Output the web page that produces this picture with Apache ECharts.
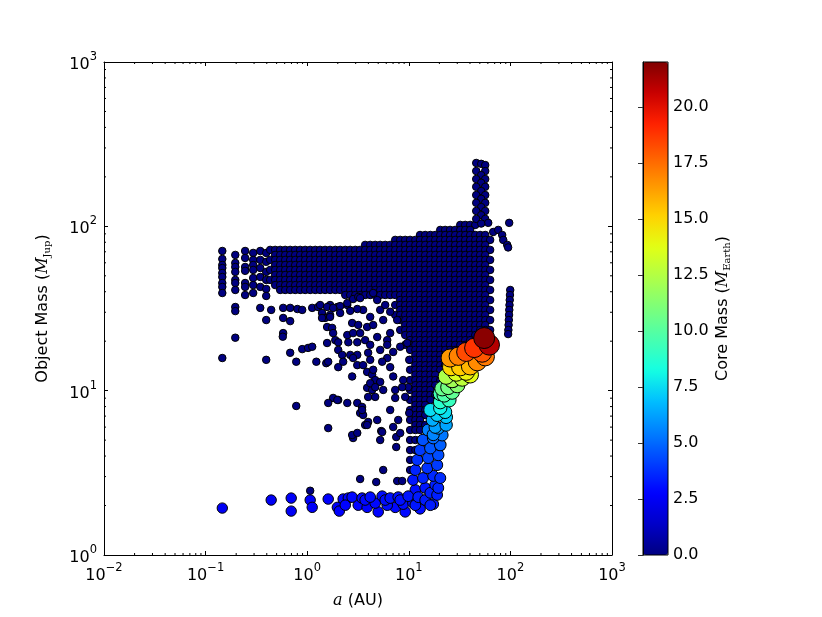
<!DOCTYPE html>
<html>
<head>
<meta charset="utf-8">
<script src="https://cdn.jsdelivr.net/npm/echarts@6.0.0/dist/echarts.min.js"></script>
<style>
  html, body { margin: 0; padding: 0; background: #fff; }
  #chart { width: 822px; height: 617px; }
</style>
</head>
<body>
<div id="chart"></div>
<script>
// ---- data: [a (AU), object mass (M_Jup)] or [a, mass, core mass] ----

// far-left columns of the cloud (initial a grid), core mass 0
const leftColumns = [
  [0.146, 70.8], [0.146, 63.3], [0.146, 58.2], [0.146, 55.8], [0.146, 52.0], [0.146, 49.2], [0.146, 45.2], [0.146, 42.8], [0.146, 39.3],
  [0.196, 67.0], [0.196, 59.9], [0.196, 56.6], [0.196, 52.8], [0.196, 47.2], [0.196, 45.2], [0.196, 41.0],
  [0.245, 70.8], [0.245, 64.2], [0.245, 56.6], [0.245, 53.6], [0.245, 45.2], [0.245, 42.8], [0.245, 38.2],
  [0.294, 68.9], [0.294, 62.5], [0.294, 58.2], [0.294, 54.3], [0.294, 48.5], [0.294, 43.9], [0.294, 39.3],
  [0.345, 70.8], [0.345, 62.5], [0.345, 55.8], [0.345, 49.2], [0.345, 42.8],
  [0.395, 68.9], [0.395, 60.8], [0.395, 52.8], [0.395, 47.2], [0.395, 41.6], [0.395, 37.7]
];

// a-columns of the dense cloud
const cloudCols = [0.432, 0.484, 0.542, 0.607, 0.680, 0.762, 0.853, 0.955, 1.07, 1.20, 1.34, 1.50, 1.68, 1.89, 2.11, 2.37,
  2.65, 2.97, 3.32, 3.72, 4.17, 4.67, 5.23, 5.86, 6.56, 7.35, 8.23, 9.22, 10.3, 11.6, 12.9, 14.5, 16.3, 18.2, 20.4, 22.8,
  25.5, 28.6, 32.1, 35.9, 40.2, 45.1, 50.4, 56.5, 63.2];

// rows of the dense cloud: [mass, first a, last a]
const cloudRows = [
  [102, 32.1, 45.1], [95.1, 20.4, 40.2], [88.6, 12.9, 56.5], [82.7, 7.35, 63.2], [77.1, 3.72, 56.5],
  [71.9, 0.432, 63.2], [67.0, 0.484, 56.5], [62.5, 0.432, 63.2], [58.2, 0.484, 56.5],
  [54.3, 0.432, 63.2], [50.6, 0.484, 56.5], [47.2, 0.432, 63.2], [43.9, 0.484, 56.5],
  [41.0, 0.542, 63.2], [38.2, 2.37, 56.5], [35.6, 8.23, 63.2], [33.2, 7.35, 56.5],
  [31.0, 8.23, 63.2], [28.9, 7.35, 56.5], [26.9, 8.23, 63.2], [25.1, 9.22, 56.5],
  [23.4, 8.23, 63.2], [21.8, 9.22, 45.1], [20.3, 10.3, 40.2], [19.0, 9.22, 35.9],
  [17.7, 10.3, 32.1], [16.5, 11.6, 28.6], [15.4, 10.3, 25.5], [14.3, 11.6, 22.8],
  [13.4, 10.3, 20.4], [12.5, 11.6, 18.2], [11.6, 10.3, 20.4], [10.8, 11.6, 18.2],
  [10.1, 10.3, 16.3], [9.42, 11.6, 18.2], [8.78, 10.3, 16.3], [8.19, 11.6, 14.5],
  [7.63, 10.3, 16.3], [7.11, 11.6, 14.5], [6.63, 10.3, 12.9], [6.18, 11.6, 14.5],
  [5.76, 10.3, 12.9], [5.01, 10.3, 12.9], [4.35, 10.3, 12.9], [3.79, 10.3, 10.3],
  [3.29, 10.3, 10.3]
];

// loose points below / left of the cloud, core mass 0
const scattered = [
  [0.146, 15.8], [0.196, 32.3], [0.196, 30.5], [0.196, 21.0], [0.345, 31.9], [0.395, 26.9], [0.395, 15.4],
  [0.442, 31.0], [0.580, 31.9], [0.580, 27.7], [0.580, 22.4], [0.575, 21.3], [0.680, 31.9], [0.680, 26.5], [0.680, 17.0],
  [0.780, 15.0], [0.780, 8.07], [0.80, 31.4], [0.893, 31.0], [0.893, 17.9], [1.02, 18.2], [1.12, 18.5], [1.12, 31.9],
  [1.23, 15.0], [1.28, 32.3], [1.34, 33.2], [1.40, 29.7], [1.50, 27.7], [1.54, 14.7], [1.61, 15.0], [1.57, 19.5], [1.57, 24.4],
  [1.68, 33.2], [1.68, 28.9], [1.76, 24.1], [1.80, 22.4], [1.89, 20.3], [1.98, 32.3], [2.02, 19.7], [2.02, 17.7], [2.02, 13.9],
  [1.80, 9.03], [2.02, 8.78], [2.21, 16.5], [2.26, 15.0], [2.48, 33.2], [2.48, 21.8], [2.54, 19.7], [2.48, 8.42], [2.65, 16.5],
  [2.77, 25.8], [2.83, 22.4], [2.77, 12.2], [2.83, 5.15], [2.77, 5.37], [3.11, 5.53], [3.11, 19.7], [3.11, 16.5], [3.11, 14.3],
  [3.11, 8.42], [3.18, 25.1], [3.32, 22.4], [3.32, 7.31], [3.47, 7.96], [3.55, 31.0], [3.55, 14.3], [3.55, 7.11], [3.72, 20.3],
  [3.72, 6.18], [3.89, 24.4], [3.89, 13.0], [3.89, 10.4], [3.98, 17.0], [3.98, 9.16], [3.98, 6.45], [4.17, 28.1], [4.17, 15.4],
  [4.36, 12.5], [4.36, 10.1], [4.46, 25.1], [4.46, 13.4], [4.67, 11.6], [4.89, 21.2], [4.89, 6.63], [5.23, 31.0], [5.23, 17.7],
  [5.23, 11.3], [5.23, 5.01], [5.35, 5.68], [5.60, 26.9], [5.60, 10.1], [5.60, 3.29], [6.13, 20.3], [6.13, 15.8], [6.56, 22.4],
  [6.56, 13.9], [6.56, 7.63], [7.02, 17.2], [7.02, 12.2], [7.02, 6.01], [7.35, 10.1], [7.35, 9.03], [7.52, 5.22], [7.52, 4.54],
  [7.69, 2.82], [7.87, 6.63], [8.23, 18.5], [8.23, 5.52], [8.61, 2.82], [8.81, 11.6], [9.22, 9.16], [9.65, 19.5], [9.87, 10.5],
  [10.1, 15.4], [10.1, 7.31], [3.32, 2.90], [4.78, 2.78], [1.07, 2.46], [1.61, 8.42], [1.61, 5.92], [1.98, 8.78], [3.47, 7.63],
  [3.89, 6.18], [5.47, 5.60], [2.83, 15.8], [4.17, 19.0], [4.17, 11.1], [4.67, 10.5], [4.67, 9.16], [5.47, 15.0], [6.13, 19.0],
  [7.69, 26.9], [8.61, 10.5],
  [2.48, 34.1], [2.83, 36.1], [3.18, 37.2], [2.11, 32.7], [1.57, 32.3], [1.80, 31.9], [3.11, 31.4], [2.65, 30.6], [2.11, 29.7],
  [1.68, 28.1], [1.40, 27.7], [3.32, 36.6], [4.46, 39.3], [4.89, 35.6], [5.86, 33.2], [6.56, 30.2]
];

// narrow spike near a ~ 50 AU
const spike = [
  [46.1, 243], [51.6, 240], [56.5, 236], [46.1, 217], [56.5, 217], [51.6, 205], [46.1, 194], [56.5, 194], [51.6, 184],
  [46.1, 174], [56.5, 174], [51.6, 164], [46.1, 155], [56.5, 155], [51.6, 147], [46.1, 139], [56.5, 139], [51.6, 131],
  [46.1, 124], [56.5, 124], [51.6, 117], [46.1, 111], [56.5, 111], [60.5, 105], [51.6, 104]
];

// small hook and lone points right of the cloud, near a ~ 100 AU
const hook = [[67.7, 92.4], [75.9, 95.1], [83.0, 88.6], [85.0, 82.7], [93.0, 77.1], [95.0, 74.4], [97.3, 105]];
const outerLine = [
  [99.6, 41.0], [99.0, 38.2], [98.5, 35.6], [98.0, 33.2], [97.5, 31.0], [97.0, 28.9], [96.5, 26.9], [96.0, 25.1], [95.5, 23.4], [95.0, 22.1]
];

// bottom strand of planets with small cores: [a, mass, core]
const bottomStrand = [
  [0.146, 1.93, 2.5], [0.442, 2.16, 2.5], [0.696, 2.22, 2.6], [0.696, 1.85, 2.5], [1.07, 2.16, 2.6], [1.12, 1.95, 2.6],
  [1.61, 2.19, 2.7], [1.98, 1.95, 2.6], [2.07, 1.85, 2.7], [2.26, 2.19, 2.8], [2.54, 2.22, 2.8], [2.77, 2.25, 2.9],
  [3.18, 2.01, 2.8], [3.47, 2.22, 2.9], [3.89, 1.95, 2.8], [4.17, 2.25, 3.0], [4.67, 2.07, 2.9], [5.00, 1.83, 2.8],
  [5.47, 2.28, 3.0], [6.13, 2.01, 3.0], [6.56, 2.22, 3.1], [7.35, 1.95, 2.9], [7.87, 2.25, 3.1], [8.81, 2.04, 3.0],
  [9.22, 1.83, 2.9], [9.87, 2.28, 3.2], [11.0, 2.07, 3.1], [12.4, 2.25, 3.3], [12.9, 1.91, 3.0], [14.5, 2.16, 3.3],
  [16.3, 2.39, 3.4], [17.4, 2.04, 3.2], [19.5, 2.56, 3.5],
  [2.37, 2.01, 2.8], [3.72, 2.16, 2.9], [5.86, 2.16, 3.0], [8.23, 2.16, 3.1], [11.6, 2.01, 3.2], [16.3, 2.01, 3.3],
  [19.0, 2.32, 3.4], [20.4, 2.94, 3.7]
];

// rising track of growing cores: [a, mass, core]
const coreTrack = [
  [11.6, 2.49, 3.0], [14.5, 2.56, 3.2], [18.2, 2.67, 3.4], [11.0, 2.86, 3.2], [13.8, 2.94, 3.5], [17.4, 3.03, 3.6],
  [11.6, 3.29, 3.5], [15.2, 3.38, 3.8], [19.0, 3.53, 4.0], [12.1, 3.79, 3.8], [15.5, 3.90, 4.2], [19.5, 4.06, 4.4],
  [12.9, 4.35, 4.0], [16.3, 4.47, 4.6], [20.4, 4.67, 4.8], [13.8, 5.01, 4.5], [17.4, 5.15, 5.0], [21.3, 5.37, 5.3],
  [15.5, 5.76, 5.5], [19.5, 5.92, 6.0], [23.3, 6.18, 6.3], [17.1, 6.63, 6.5], [19.0, 7.11, 7.2], [22.8, 7.42, 7.6],
  [20.4, 7.85, 8.0], [20.4, 8.54, 8.8], [24.9, 8.78, 9.2], [22.3, 9.42, 9.8], [26.7, 9.82, 10.3], [24.4, 10.5, 10.8],
  [30.0, 10.8, 11.3], [26.7, 11.6, 12.0], [33.6, 11.9, 12.7], [29.3, 12.8, 13.5], [36.7, 13.0, 14.2], [26.1, 13.9, 15.0],
  [32.1, 13.9, 15.3], [40.2, 14.1, 15.8], [25.5, 15.8, 16.5], [30.7, 16.2, 17.0], [47.2, 15.0, 16.8], [56.5, 16.1, 17.2],
  [36.7, 17.2, 18.3], [44.1, 18.2, 18.8], [52.7, 17.0, 18.0], [55.2, 20.9, 21.8], [61.9, 19.0, 21.0],
  [16.3, 7.63, 7.5], [23.3, 6.90, 7.0], [20.4, 9.60, 9.5], [21.3, 10.3, 10.5], [40.2, 12.5, 13.8], [23.3, 12.2, 12.3],
  [18.2, 6.00, 6.2], [17.4, 5.40, 5.6]
];

// axes
const xRange = [0.01, 1000];
const yRange = [1, 1000];
const coreRange = [0, 22];
const coreTickStep = 2.5;
const minorMultipliers = [2, 3, 4, 5, 6, 7, 8, 9];
const xDecades = [0.01, 0.1, 1, 10, 100];
const yDecades = [1, 10, 100];

// matplotlib "jet"
const jet = ['#000080', '#0000c8', '#0000ff', '#0040ff', '#0080ff', '#00bfff', '#15ffe2', '#48ffaf', '#7bff7b',
             '#afff48', '#e2ff15', '#ffd200', '#ff9700', '#ff5c00', '#ff2100', '#c80000', '#800000'];

// ---- build ----
const cloudPts = [];
cloudRows.forEach(function (r) {
  cloudCols.forEach(function (a) {
    if (a >= r[1] && a <= r[2]) cloudPts.push([a, r[0]]);
  });
});

const darkData = [].concat(leftColumns, cloudPts, scattered, spike, hook, outerLine)
  .map(function (p) { return [p[0], p[1], 0]; });
const coreData = [].concat(bottomStrand, coreTrack).sort(function (p, q) { return p[2] - q[2]; });

const xMinor = [];
xDecades.forEach(function (d) { minorMultipliers.forEach(function (k) { xMinor.push([d * k, yRange[0]]); }); });
const yMinor = [];
yDecades.forEach(function (d) { minorMultipliers.forEach(function (k) { yMinor.push([xRange[0], d * k]); }); });

const FONT = 'DejaVu Sans';
const supLabel = function (v) {
  const e = Math.round(Math.log10(v));
  return '{b|10}{s|' + (e < 0 ? '\u2212' + (-e) : e) + '}';
};
const supRich = {
  b: { fontFamily: FONT, fontSize: 16, color: '#000', lineHeight: 22, verticalAlign: 'bottom' },
  s: { fontFamily: FONT, fontSize: 11.5, color: '#000', lineHeight: 12, verticalAlign: 'top' }
};
const mathRich = {
  it: { fontFamily: 'DejaVu Serif', fontStyle: 'italic', fontSize: 16, color: '#000' },
  sub: { fontFamily: 'DejaVu Serif', fontSize: 10, color: '#000', padding: [8, 0, 0, 0] }
};

function logAxis(pos, range, showLabel) {
  return {
    type: 'log', logBase: 10, position: pos, min: range[0], max: range[1], gridIndex: 0,
    axisLine: { show: true, onZero: false, lineStyle: { color: '#000', width: 1 } },
    axisTick: { show: true, inside: true, length: 4, lineStyle: { color: '#000', width: 1 } },
    axisLabel: { show: showLabel, margin: 7, formatter: supLabel, rich: supRich },
    splitLine: { show: false }
  };
}

function minorTickRenderer(isX) {
  return function (params, api) {
    const cs = params.coordSys;
    const pt = api.coord([api.value(0), api.value(1)]);
    const st = { stroke: '#000', lineWidth: 1 };
    if (isX) {
      const x = pt[0];
      return { type: 'group', children: [
        { type: 'line', shape: { x1: x, y1: cs.y + cs.height, x2: x, y2: cs.y + cs.height - 2 }, style: st },
        { type: 'line', shape: { x1: x, y1: cs.y, x2: x, y2: cs.y + 2 }, style: st }
      ] };
    }
    const y = pt[1];
    return { type: 'group', children: [
      { type: 'line', shape: { x1: cs.x, y1: y, x2: cs.x + 2, y2: y }, style: st },
      { type: 'line', shape: { x1: cs.x + cs.width, y1: y, x2: cs.x + cs.width - 2, y2: y }, style: st }
    ] };
  };
}

const xBottom = logAxis('bottom', xRange, true);
xBottom.name = '{it|a} (AU)';
xBottom.nameLocation = 'middle';
xBottom.nameGap = 38;
xBottom.nameTextStyle = { fontFamily: FONT, fontSize: 16, color: '#000', rich: mathRich };

const yLeft = logAxis('left', yRange, true);
yLeft.name = 'Object Mass ({it|M}{sub|Jup})';
yLeft.nameLocation = 'middle';
yLeft.nameGap = 52;
yLeft.nameRotate = 90;
yLeft.nameTextStyle = { fontFamily: FONT, fontSize: 16, color: '#000', rich: mathRich };

const chart = echarts.init(document.getElementById('chart'), null, { renderer: 'canvas' });
chart.setOption({
  animation: false,
  backgroundColor: '#fff',
  grid: [
    { left: 104, top: 62, width: 508, height: 493, show: false },
    { left: 643, top: 62, width: 25, height: 493, show: true, borderColor: '#000', borderWidth: 1,
      backgroundColor: 'transparent', z: 6 }
  ],
  xAxis: [
    xBottom,
    logAxis('top', xRange, false),
    { type: 'value', gridIndex: 1, show: false, min: 0, max: 1 }
  ],
  yAxis: [
    yLeft,
    logAxis('right', yRange, false),
    {
      type: 'value', gridIndex: 1, position: 'right', min: coreRange[0], max: coreRange[1], interval: coreTickStep, z: 6,
      axisLine: { show: true, lineStyle: { color: '#000', width: 1 } },
      axisTick: { show: true, inside: true, length: 5, lineStyle: { color: '#333', width: 1 } },
      axisLabel: { show: true, margin: 5, showMaxLabel: false, fontFamily: FONT, fontSize: 16, color: '#000',
        formatter: function (v) { return v.toFixed(1); } },
      splitLine: { show: false },
      name: 'Core Mass ({it|M}{sub|Earth})',
      nameLocation: 'middle', nameGap: 46, nameRotate: 90,
      nameTextStyle: { fontFamily: FONT, fontSize: 16, color: '#000', rich: mathRich }
    }
  ],
  visualMap: {
    type: 'continuous', min: coreRange[0], max: coreRange[1], dimension: 2, seriesIndex: [0, 1],
    calculable: false, hoverLink: false, realtime: false,
    left: 643, top: 62, itemWidth: 25, itemHeight: 493, padding: 0, text: null,
    inRange: { color: jet }
  },
  series: [
    {
      type: 'scatter', xAxisIndex: 0, yAxisIndex: 0, data: darkData, symbolSize: 7.5,
      itemStyle: { borderColor: '#000', borderWidth: 1, opacity: 1 }, silent: true
    },
    {
      type: 'scatter', xAxisIndex: 0, yAxisIndex: 0, data: coreData,
      symbolSize: function (v) { return 9 + 0.55 * v[2]; },
      itemStyle: { borderColor: '#000', borderWidth: 1, opacity: 1 }, silent: true
    },
    { type: 'custom', xAxisIndex: 0, yAxisIndex: 0, data: xMinor, renderItem: minorTickRenderer(true), silent: true, z: 5 },
    { type: 'custom', xAxisIndex: 0, yAxisIndex: 0, data: yMinor, renderItem: minorTickRenderer(false), silent: true, z: 5 }
  ]
});
</script>
</body>
</html>
